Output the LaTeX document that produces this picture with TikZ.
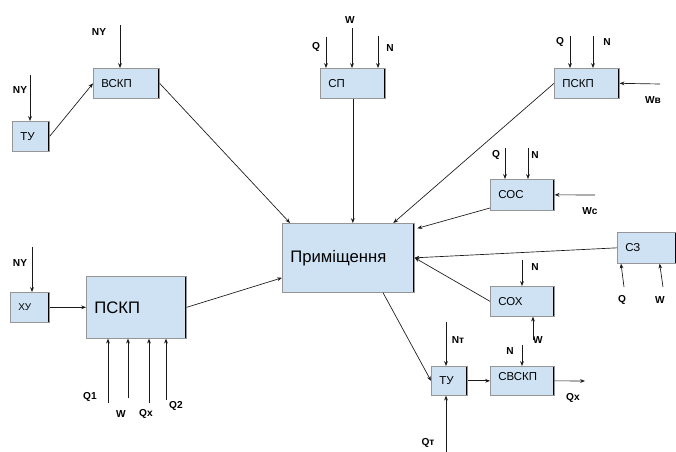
\documentclass[tikz,border=0pt]{standalone}
\usepackage{fontspec}
\setmainfont{Liberation Sans}
\usepackage{tikz}
\usetikzlibrary{arrows.meta, calc}
\definecolor{boxfill}{RGB}{207, 226, 243}
\definecolor{boxborder}{RGB}{150, 150, 150}
\definecolor{arrowcol}{RGB}{25, 25, 25}

\begin{document}
\begin{tikzpicture}[
    x=0.75pt, y=-0.75pt,
    >={Stealth[length=3.6pt, width=2.8pt]},
    flowarrow/.style={->, line width=0.5pt, draw=arrowcol},
    sig/.style={font=\fontsize{7.6}{8}\selectfont\bfseries, inner sep=1pt},
    unit/.style={rectangle, anchor=north west, fill=boxfill, draw=boxborder,
                 line width=0.5pt, inner xsep=6pt, inner ysep=0pt, align=left,
                 font=\fontsize{8.6}{9}\selectfont,
                 path picture={
                   \draw[black, line width=1.6pt]
                     (path picture bounding box.north west) --
                     (path picture bounding box.north east) --
                     (path picture bounding box.south east);
                 }},
    bigunit/.style={unit, font=\fontsize{12.5}{14}\selectfont},
]
\useasboundingbox (0,0) rectangle (676,452);

% ============================================================
% NODES
% ============================================================
\node[unit, text width=15.75pt, minimum height=22.5pt] (tuleft) at (12,121) {ТУ};
\node[unit, text width=37.5pt, minimum height=22.5pt] (vskp) at (93,68) {ВСКП};
\node[unit, text width=36.75pt, minimum height=22.5pt] (sp) at (320,68) {СП};
\node[unit, text width=36.75pt, minimum height=22.5pt] (psktop) at (554,68) {ПСКП};
\node[unit, text width=36pt, minimum height=23.25pt] (sos) at (490,179) {СОС};
\node[bigunit, text width=87pt, minimum height=51.75pt] (room) at (282,223) {Приміщення};
\node[unit, text width=32.25pt, minimum height=23.25pt] (sz) at (617,232) {СЗ};
\node[unit, text width=36pt, minimum height=22.5pt] (sox) at (490,286) {СОХ};
\node[unit, text width=36pt, minimum height=21.75pt,
      text depth=6pt] (svskp) at (490,366) {СВСКП};
\node[unit, text width=15pt, minimum height=21.75pt] (turight) at (431,366) {ТУ};
\node[unit, text width=17.25pt, minimum height=22.5pt,
      font=\fontsize{7.4}{8}\selectfont] (xu) at (10,292) {ХУ};
\node[bigunit, text width=63pt, minimum height=46.5pt] (pskp) at (86,276) {ПСКП};

% ============================================================
% FREE ENDS OF INPUT / OUTPUT ARROWS
% ============================================================
\coordinate (nyvskp) at (120,25);
\coordinate (nytu) at (30,75);
\coordinate (nyxu) at (32,247);
\coordinate (qsp) at (326,37);
\coordinate (wsp) at (352,28);
\coordinate (nsp) at (378,36);
\coordinate (qpsk) at (570,36);
\coordinate (npsk) at (593,36);
\coordinate (wvpsk) at (660,84);
\coordinate (qsos) at (505,148);
\coordinate (nsos) at (528,148);
\coordinate (wcsos) at (595,195);
\coordinate (qsz) at (624,287);
\coordinate (wsz) at (663,287);
\coordinate (nsox) at (522,260);
\coordinate (wsox) at (533,340);
\coordinate (nsvskp) at (522,345);
\coordinate (qxout) at (585,381);
\coordinate (ntu) at (446,322);
\coordinate (qtu) at (446,452);
\coordinate (qone) at (108,403);
\coordinate (wpskp) at (128,398);
\coordinate (qxpskp) at (149,403);
\coordinate (qtwo) at (166,400);

% ============================================================
% LABELS
% ============================================================
\node[sig] (lnyvskp) at (99,32) {NY};
\node[sig] (lnytu) at (20,90) {NY};
\node[sig] (lnyxu) at (20,263) {NY};
\node[sig] (lqsp) at (316,47) {Q};
\node[sig] (lwsp) at (350,20) {W};
\node[sig] (lnsp) at (390,48) {N};
\node[sig] (lqpsk) at (560,42) {Q};
\node[sig] (lnpsk) at (607,42) {N};
\node[sig] (lwvpsk) at (653,100) {Wв};
\node[sig] (lqsos) at (496,155) {Q};
\node[sig] (lnsos) at (535,155) {N};
\node[sig] (lwcsos) at (590,211) {Wс};
\node[sig] (lqsz) at (622,300) {Q};
\node[sig] (lwsz) at (660,300) {W};
\node[sig] (lnsox) at (535,267) {N};
\node[sig] (lwsox) at (538,340) {W};
\node[sig] (lnsvskp) at (510,351) {N};
\node[sig] (lntu) at (458,340) {Nт};
\node[sig] (lqxout) at (573,398) {Qx};
\node[sig] (lqtu) at (428,443) {Qт};
\node[sig] (lqone) at (90,397) {Q1};
\node[sig] (lwpskp) at (121,414) {W};
\node[sig] (lqxpskp) at (146,414) {Qx};
\node[sig] (lqtwo) at (176,406) {Q2};

% ============================================================
% CONNECTORS INTO THE ROOM
% ============================================================
\draw[flowarrow] (tuleft.east) -- (vskp.west);
\draw[flowarrow] (vskp.east) -- ([xshift=6pt]room.north west);
\draw[flowarrow] (sp.south) -- (sp.south |- room.north);
\draw[flowarrow] (psktop.west) -- ([xshift=-16pt]room.north east);
\draw[flowarrow] ([yshift=2pt]sos.south west) -- ([xshift=2pt, yshift=-4pt]room.north east);
\draw[flowarrow] (sz.west) -- (room.east);
\draw[flowarrow] (sox.west) -- (room.east);
\draw[flowarrow] (xu.east) -- (pskp.west);
\draw[flowarrow] (pskp.east) -- ([yshift=-15pt]room.west);

% ============================================================
% ROOM -> TU -> SVSKP
% ============================================================
\draw[flowarrow] ([xshift=26pt]room.south) -- (turight.west);
\draw[flowarrow] (turight.east) -- (svskp.west);
\draw[flowarrow] (svskp.east) -- (qxout);

% ============================================================
% INPUTS
% ============================================================
\draw[flowarrow] (nyvskp) -- (nyvskp |- vskp.north);
\draw[flowarrow] (nytu) -- (nytu |- tuleft.north);
\draw[flowarrow] (nyxu) -- (nyxu |- xu.north);
\draw[flowarrow] (qsp) -- (qsp |- sp.north);
\draw[flowarrow] (wsp) -- (wsp |- sp.north);
\draw[flowarrow] (nsp) -- (nsp |- sp.north);
\draw[flowarrow] (qpsk) -- (qpsk |- psktop.north);
\draw[flowarrow] (npsk) -- (npsk |- psktop.north);
\draw[flowarrow] (wvpsk) -- (psktop.east);
\draw[flowarrow] (qsos) -- (qsos |- sos.north);
\draw[flowarrow] (nsos) -- (nsos |- sos.north);
\draw[flowarrow] (wcsos) -- (sos.east);
\draw[flowarrow] (qsz) -- ([xshift=3pt]sz.south west);
\draw[flowarrow] (wsz) -- ([xshift=32pt]sz.south west);
\draw[flowarrow] (nsox) -- (nsox |- sox.north);
\draw[flowarrow] (wsox) -- (wsox |- sox.south);
\draw[flowarrow] (nsvskp) -- (nsvskp |- svskp.north);
\draw[flowarrow] (ntu) -- (ntu |- turight.north);
\draw[flowarrow] (qtu) -- (qtu |- turight.south);
\draw[flowarrow] (qone) -- (qone |- pskp.south);
\draw[flowarrow] (wpskp) -- (wpskp |- pskp.south);
\draw[flowarrow] (qxpskp) -- (qxpskp |- pskp.south);
\draw[flowarrow] (qtwo) -- (qtwo |- pskp.south);

\end{tikzpicture}
\end{document}
